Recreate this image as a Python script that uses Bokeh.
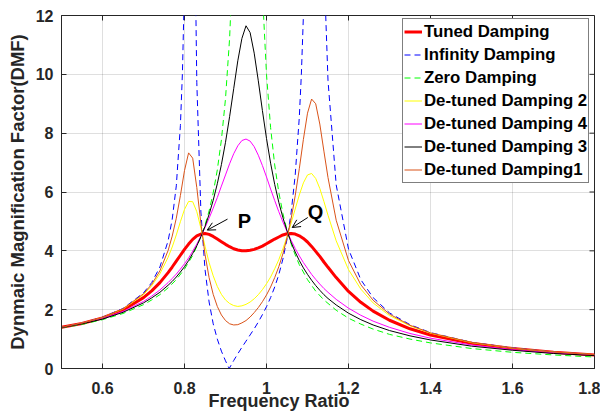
from bokeh.plotting import figure
from bokeh.models import (Range1d, FixedTicker, Legend, LegendItem, Label, Arrow,
                          OpenHead, Title)
from bokeh.embed import file_html
from bokeh.resources import INLINE

# ---------------- data ----------------
freq = [0.50, 0.55, 0.60, 0.65, 0.70, 0.72, 0.74, 0.76, 0.77, 0.78, 0.79,
        0.80, 0.81, 0.82, 0.83, 0.84, 0.85, 0.86, 0.87, 0.88, 0.89,
        0.90, 0.91, 0.92, 0.93, 0.94, 0.95, 0.96, 0.97, 0.98, 0.99,
        1.00, 1.01, 1.02, 1.03, 1.04, 1.05, 1.06, 1.07, 1.08, 1.09,
        1.10, 1.11, 1.12, 1.13, 1.14, 1.15, 1.17, 1.20, 1.23, 1.26,
        1.30, 1.35, 1.40, 1.50, 1.60, 1.70, 1.80]

tuned = [1.40, 1.53, 1.72, 1.99, 2.41, 2.64, 2.92, 3.26, 3.45, 3.65, 3.85,
         4.05, 4.23, 4.39, 4.51, 4.57, 4.59, 4.56, 4.49, 4.40, 4.31,
         4.22, 4.14, 4.07, 4.03, 4.00, 4.00, 4.02, 4.05, 4.10, 4.16,
         4.24, 4.32, 4.40, 4.47, 4.54, 4.58, 4.59, 4.57, 4.51, 4.42,
         4.30, 4.15, 3.98, 3.81, 3.62, 3.44, 3.09, 2.62, 2.25, 1.95,
         1.64, 1.35, 1.14, 0.86, 0.68, 0.55, 0.46]

detuned3 = [1.39, 1.52, 1.68, 1.91, 2.23, 2.40, 2.59, 2.83, 2.96, 3.11, 3.28,
            3.46, 3.67, 3.91, 4.17, 4.48, 4.83, 5.24, 5.72, 6.28, 6.93,
            7.69, 8.56, 9.51, 10.46, 11.22, 11.65, 11.42, 10.72, 9.78, 8.77,
            7.82, 6.98, 6.26, 5.65, 5.13, 4.68, 4.29, 3.96, 3.67, 3.42,
            3.20, 3.00, 2.82, 2.66, 2.51, 2.38, 2.16, 1.88, 1.66, 1.48,
            1.29, 1.11, 0.97, 0.76, 0.62, 0.51, 0.44]

detuned4 = [1.39, 1.53, 1.70, 1.94, 2.28, 2.46, 2.67, 2.92, 3.06, 3.21, 3.38,
            3.56, 3.76, 3.99, 4.23, 4.50, 4.79, 5.11, 5.45, 5.81, 6.20,
            6.58, 6.96, 7.30, 7.57, 7.75, 7.80, 7.73, 7.54, 7.25, 6.90,
            6.51, 6.10, 5.71, 5.33, 4.98, 4.66, 4.36, 4.08, 3.83, 3.60,
            3.40, 3.20, 3.03, 2.87, 2.72, 2.59, 2.35, 2.05, 1.81, 1.61,
            1.40, 1.19, 1.03, 0.80, 0.64, 0.53, 0.45]

detuned2 = [1.40, 1.54, 1.73, 2.02, 2.51, 2.81, 3.22, 3.78, 4.13, 4.54, 4.99,
            5.41, 5.68, 5.67, 5.33, 4.77, 4.16, 3.60, 3.15, 2.79, 2.52,
            2.33, 2.21, 2.14, 2.11, 2.13, 2.18, 2.26, 2.37, 2.51, 2.68,
            2.88, 3.11, 3.39, 3.70, 4.07, 4.48, 4.94, 5.42, 5.90, 6.31,
            6.58, 6.63, 6.46, 6.12, 5.68, 5.21, 4.34, 3.36, 2.70, 2.23,
            1.80, 1.45, 1.20, 0.88, 0.69, 0.56, 0.47]

detuned1 = [1.40, 1.54, 1.73, 2.03, 2.54, 2.86, 3.32, 4.01, 4.50, 5.11, 5.88,
            6.73, 7.33, 7.15, 6.15, 4.93, 3.88, 3.09, 2.52, 2.11, 1.82,
            1.63, 1.52, 1.48, 1.49, 1.55, 1.63, 1.75, 1.90, 2.07, 2.27,
            2.50, 2.77, 3.09, 3.46, 3.90, 4.44, 5.09, 5.87, 6.79, 7.79,
            8.68, 9.16, 9.00, 8.31, 7.39, 6.49, 5.04, 3.67, 2.85, 2.32,
            1.85, 1.47, 1.21, 0.89, 0.69, 0.56, 0.47]

inf_freq = [0.50, 0.55, 0.60, 0.65, 0.70, 0.72, 0.74, 0.76, 0.77, 0.78, 0.79,
            0.795, 0.80, 0.805, 0.81, 0.8146, 0.82, 0.825, 0.83, 0.84, 0.85,
            0.86, 0.87, 0.88, 0.89, 0.90, 0.909, 0.92, 0.93, 0.94, 0.95,
            0.96, 0.97, 0.98, 0.99, 1.00, 1.01, 1.02, 1.03, 1.04, 1.05,
            1.06, 1.07, 1.08, 1.085, 1.09, 1.10, 1.105, 1.11, 1.116, 1.12,
            1.125, 1.13, 1.14, 1.15, 1.17, 1.20, 1.23, 1.26, 1.30, 1.35,
            1.40, 1.50, 1.60, 1.70, 1.80]
inf_damp = [1.40, 1.54, 1.74, 2.04, 2.57, 2.92, 3.45, 4.34, 5.07, 6.21, 8.26,
            10.07, 13.10, 19.3, 39.1, 200.0, 30.2, 15.07, 9.73, 5.32, 3.37,
            2.26, 1.52, 1.00, 0.59, 0.26, 0.00, 0.27, 0.50, 0.72, 0.93,
            1.14, 1.35, 1.58, 1.83, 2.10, 2.41, 2.77, 3.19, 3.72, 4.39,
            5.29, 6.57, 8.54, 9.99, 11.99, 19.7, 28.8, 52.9, 200.0, 82.3,
            36.4, 23.5, 13.77, 9.79, 6.24, 4.06, 3.02, 2.41, 1.89, 1.49,
            1.22, 0.89, 0.70, 0.56, 0.47]

zero_freq = [0.50, 0.55, 0.60, 0.65, 0.70, 0.72, 0.74, 0.76, 0.78, 0.80, 0.82,
             0.84, 0.85, 0.86, 0.87, 0.88, 0.89, 0.90, 0.91, 0.92, 0.93,
             0.94, 0.9535, 0.96, 0.97, 0.98, 0.99, 1.00, 1.01, 1.02, 1.03,
             1.04, 1.05, 1.06, 1.07, 1.08, 1.10, 1.12, 1.14, 1.17, 1.20,
             1.23, 1.26, 1.30, 1.35, 1.40, 1.50, 1.60, 1.70, 1.80]
zero_damp = [1.38, 1.50, 1.66, 1.87, 2.17, 2.33, 2.51, 2.74, 3.02, 3.38, 3.84,
             4.47, 4.87, 5.36, 5.97, 6.75, 7.77, 9.17, 11.22, 14.50, 20.57,
             35.7, 500.0, 72.7, 28.6, 17.72, 12.80, 10.00, 8.19, 6.92, 5.99,
             5.27, 4.70, 4.24, 3.86, 3.53, 3.02, 2.63, 2.33, 1.98, 1.71,
             1.51, 1.34, 1.16, 1.00, 0.87, 0.68, 0.55, 0.46, 0.39]

x_ticks = [0.6, 0.8, 1.0, 1.2, 1.4, 1.6, 1.8]
x_tick_labels = ["0.6", "0.8", "1", "1.2", "1.4", "1.6", "1.8"]
y_ticks = [0, 2, 4, 6, 8, 10, 12]
y_tick_labels = ["0", "2", "4", "6", "8", "10", "12"]

FONT = "Liberation Sans"
AX = "#262626"
X0, X1, Y0, Y1 = 0.5, 1.8, 0.0, 12.0

p = figure(width=600, height=416, x_range=Range1d(X0, X1), y_range=Range1d(Y0, Y1),
           output_backend="svg", toolbar_location=None,
           min_border_left=61, min_border_right=6, min_border_top=15, min_border_bottom=48)
p.outline_line_color = AX
p.outline_line_width = 1
p.background_fill_color = "white"

for ax, ticks, labels in ((p.xaxis[0], x_ticks, x_tick_labels), (p.yaxis[0], y_ticks, y_tick_labels)):
    ax.ticker = FixedTicker(ticks=ticks)
    ax.major_label_overrides = dict(zip(ticks, labels))
    ax.major_label_text_font = FONT
    ax.major_label_text_font_style = "bold"
    ax.major_label_text_font_size = "16px"
    ax.major_label_text_color = AX
    ax.axis_line_color = AX
    ax.major_tick_line_color = AX
    ax.major_tick_in = 5
    ax.major_tick_out = 0
    ax.minor_tick_line_color = None
p.xaxis.major_label_standoff = 13
p.yaxis.major_label_standoff = 8

# y title as the axis label (centred on the frame, as in the reference)
p.yaxis.axis_label = "Dynmaic Magnification Factor(DMF)"
p.yaxis.axis_label_text_font = FONT
p.yaxis.axis_label_text_font_style = "bold"
p.yaxis.axis_label_text_font_size = "18.5px"
p.yaxis.axis_label_text_color = AX
p.yaxis.axis_label_standoff = 5

# x title: sits left of the frame centre in the reference
try:
    xt = Title(text="Frequency Ratio", align="left", offset=147, standoff=-12,
               vertical_align="top")
except Exception:
    xt = Title(text="Frequency Ratio", align="left", offset=147, standoff=0,
               vertical_align="top")
xt.text_font = FONT
xt.text_font_style = "bold"
xt.text_font_size = "18px"
xt.text_color = AX
p.add_layout(xt, "below")

p.xgrid.ticker = FixedTicker(ticks=x_ticks)
p.ygrid.ticker = FixedTicker(ticks=y_ticks)
p.grid.grid_line_color = AX
p.grid.grid_line_alpha = 0.15

# inward ticks on the top and right edges of the box (5 px long)
tx = 5 * (X1 - X0) / 533.0
ty = 5 * (Y1 - Y0) / 353.0
p.segment(x0=[X1] * len(y_ticks), x1=[X1 - tx] * len(y_ticks), y0=y_ticks, y1=y_ticks,
          line_color=AX, line_width=1)
p.segment(x0=x_ticks, x1=x_ticks, y0=[Y1] * len(x_ticks), y1=[Y1 - ty] * len(x_ticks),
          line_color=AX, line_width=1)

r_tuned = p.line(freq, tuned, line_color="#FF0000", line_width=3)
r_inf = p.line(inf_freq, inf_damp, line_color="#0000FF", line_width=1, line_dash="6 4")
r_zero = p.line(zero_freq, zero_damp, line_color="#00FF00", line_width=1, line_dash="6 4")
r_d2 = p.line(freq, detuned2, line_color="#FFFF00", line_width=1)
r_d4 = p.line(freq, detuned4, line_color="#FF00FF", line_width=1)
r_d3 = p.line(freq, detuned3, line_color="#000000", line_width=1)
r_d1 = p.line(freq, detuned1, line_color="#D95319", line_width=1)

legend = Legend(items=[
    LegendItem(label="Tuned Damping", renderers=[r_tuned]),
    LegendItem(label="Infinity Damping", renderers=[r_inf]),
    LegendItem(label="Zero Damping", renderers=[r_zero]),
    LegendItem(label="De-tuned Damping 2", renderers=[r_d2]),
    LegendItem(label="De-tuned Damping 4", renderers=[r_d4]),
    LegendItem(label="De-tuned Damping 3", renderers=[r_d3]),
    LegendItem(label="De-tuned Damping1", renderers=[r_d1]),
], location=(341, 185))
legend.label_text_font = FONT
legend.label_text_font_style = "bold"
legend.label_text_font_size = "16.8px"
legend.label_text_color = "black"
legend.label_height = 23
legend.glyph_height = 23
legend.glyph_width = 18
legend.label_standoff = 2
legend.padding = 1
legend.spacing = 0
legend.margin = 0
legend.border_line_color = "black"
legend.border_line_width = 1
legend.background_fill_alpha = 1
p.add_layout(legend)

# fixed point annotations
p.add_layout(Label(x=0.9463, y=5.0, text="P", text_font=FONT, text_font_style="bold",
                   text_font_size="20px", text_color="black", text_align="center",
                   text_baseline="alphabetic"))
p.add_layout(Label(x=1.1195, y=5.33, text="Q", text_font=FONT, text_font_style="bold",
                   text_font_size="20px", text_color="black", text_align="center",
                   text_baseline="alphabetic"))
p.add_layout(Arrow(end=OpenHead(size=8, line_width=1, line_color="black"),
                   x_start=0.9049, y_start=5.078, x_end=0.8554, y_end=4.704,
                   line_width=1, line_color="black"))
p.add_layout(Arrow(end=OpenHead(size=8, line_width=1, line_color="black"),
                   x_start=1.1007, y_start=5.133, x_end=1.0627, y_end=4.793,
                   line_width=1, line_color="black"))

open("out.html", "w").write(file_html(p, INLINE))
